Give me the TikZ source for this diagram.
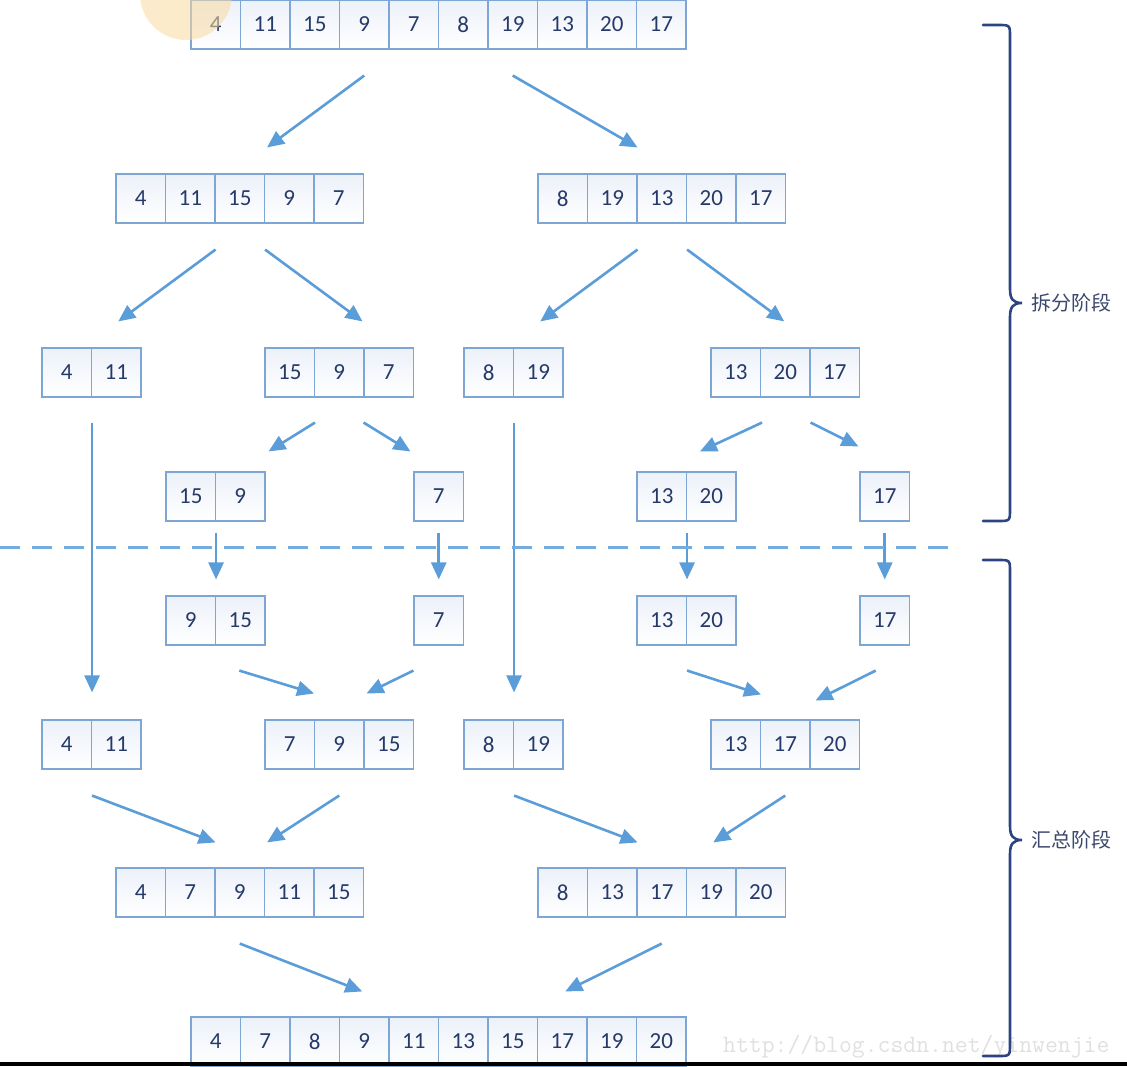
\documentclass[tikz,border=0pt]{standalone}
\usepackage{fontspec}
\setmainfont{Carlito}
\newfontfamily\cjk{Noto Sans CJK SC}
\usepackage{tikz}
\usetikzlibrary{arrows.meta}
\usetikzlibrary{calc}

\definecolor{cellline}{RGB}{125,166,212}
\definecolor{cellbg}{RGB}{236,241,249}
\definecolor{numtext}{RGB}{38,58,105}
\definecolor{arrowblue}{RGB}{91,157,216}
\definecolor{bracenavy}{RGB}{44,68,130}
\definecolor{labeltext}{RGB}{60,72,108}
\definecolor{blob}{RGB}{250,218,160}

% one row of cells: name, left x, top y, values
\newcommand{\cellrow}[4]{%
 \foreach \v [count=\i] in {#4} {
  \node[cell] (#1-\i) at ({#2+(\i-0.5)*49.5},{#3+24.5}) {\v};
 }
}

\begin{document}
\begin{tikzpicture}[x=1pt,y=-1pt,
 cell/.style={draw=cellline, line width=1.1pt, top color=cellbg, bottom color=white,
  minimum width=49.5pt, minimum height=49pt, inner sep=0pt, text=numtext,
  font=\fontsize{23}{23}\selectfont},
 flow/.style={draw=arrowblue, line width=2.6pt, -{Triangle[length=17pt,width=15pt]}},
 divider/.style={draw=arrowblue!85, line width=3pt, dash pattern=on 20pt off 12pt},
 brace/.style={draw=bracenavy, line width=2.6pt, line cap=round},
 phase/.style={text=labeltext, font=\cjk\fontsize{20}{20}\selectfont, anchor=west}]
\useasboundingbox (0,0) rectangle (1127,1066);

% split
\cellrow{t}{191}{0}{4,11,15,9,7,8,19,13,20,17}
\cellrow{a}{116}{174}{4,11,15,9,7}
\cellrow{b}{538}{174}{8,19,13,20,17}
\cellrow{c}{42}{348}{4,11}
\cellrow{d}{265}{348}{15,9,7}
\cellrow{e}{464}{348}{8,19}
\cellrow{f}{711}{348}{13,20,17}
\cellrow{g}{166}{472}{15,9}
\cellrow{h}{414}{472}{7}
\cellrow{i}{637}{472}{13,20}
\cellrow{j}{860}{472}{17}
% merge
\cellrow{n}{166}{596}{9,15}
\cellrow{o}{414}{596}{7}
\cellrow{p}{637}{596}{13,20}
\cellrow{q}{860}{596}{17}
\cellrow{k}{42}{720}{4,11}
\cellrow{r}{265}{720}{7,9,15}
\cellrow{m}{464}{720}{8,19}
\cellrow{s}{711}{720}{13,17,20}
\cellrow{u}{116}{868}{4,7,9,11,15}
\cellrow{v}{538}{868}{8,13,17,19,20}
\cellrow{w}{191}{1017}{4,7,8,9,11,13,15,17,19,20}

\fill[blob, opacity=.55] (186,-6) circle (46pt);

\draw[flow] ($(t-4.south)+(0,26)$) -- ($(a-3.north east)+(2,-26)$);
\draw[flow] ($(t-7.south)+(0,26)$) -- ($(b-2.north east)+(0,-26)$);
\draw[flow] ($(a-2.south east)+(0,26)$) -- ($(c-2.north)+(2,-26)$);
\draw[flow] ($(a-3.south east)+(0,26)$) -- ($(d-2.north east)+(-2,-26)$);
\draw[flow] ($(b-2.south east)+(0,26)$) -- ($(e-2.north)+(2,-26)$);
\draw[flow] ($(b-3.south east)+(0,26)$) -- ($(f-2.north)+(-1,-26)$);
\draw[flow] ($(d-1.south east)+(0,25)$) -- ($(g-2.north east)+(3,-20)$);
\draw[flow] ($(d-2.south east)+(-1,25)$) -- ($(h-1.north west)+(-3,-20)$);
\draw[flow] ($(f-1.south east)+(1,25)$) -- ($(i-2.north west)+(14,-20)$);
\draw[flow] ($(f-2.south east)+(0,25)$) -- ($(j-1.north west)+(-1,-25)$);
\draw[flow] ($(c-1.south east)+(0,25)$) -- ($(k-1.north east)+(0,-27)$);
\draw[flow] ($(e-1.south east)+(0,25)$) -- ($(m-1.north east)+(0,-27)$);
\draw[flow] ($(g-1.south east)+(0,11)$) -- ($(n-1.north east)+(0,-16)$);
\draw[flow] ($(h-1.south)+(0,11)$) -- ($(o-1.north)+(0,-16)$);
\draw[flow] ($(i-1.south east)+(0,11)$) -- ($(p-1.north east)+(0,-16)$);
\draw[flow] ($(j-1.south)+(0,11)$) -- ($(q-1.north)+(0,-16)$);
\draw[flow] ($(n-2.south)+(-1,25)$) -- ($(r-1.north east)+(-1,-26)$);
\draw[flow] ($(o-1.south west)+(0,25)$) -- ($(r-2.north east)+(2,-26)$);
\draw[flow] ($(p-1.south east)+(0,25)$) -- ($(s-1.north east)+(0,-25)$);
\draw[flow] ($(q-1.south)+(-9,25)$) -- ($(s-2.north east)+(5,-19)$);
\draw[flow] ($(k-1.south east)+(0,26)$) -- ($(u-2.north east)+(0,-25)$);
\draw[flow] ($(r-2.south)+(0,26)$) -- ($(u-3.north east)+(2,-25)$);
\draw[flow] ($(m-1.south east)+(0,26)$) -- ($(v-2.north east)+(0,-25)$);
\draw[flow] ($(s-2.south)+(0,26)$) -- ($(v-4.north)+(2,-25)$);
\draw[flow] ($(u-3.south)+(0,26)$) -- ($(w-4.north)+(-2,-25)$);
\draw[flow] ($(v-3.south)+(0,26)$) -- ($(w-8.north)+(3,-25)$);

\draw[divider] (0,547) -- (960,547);

\node[text=black!12, font=\ttfamily\fontsize{25}{25}\selectfont, anchor=base east]
 (mark) at (1113,1052) {http://blog.csdn.net/yinwenjie};

% braces
\draw[brace] (983,25) -- (998,25) .. controls (1010,25) .. (1010,37) -- (1010,289)
 .. controls (1010,299) and (1013,303) .. (1022,303) coordinate (splittip)
 .. controls (1013,303) and (1010,307) .. (1010,317) -- (1010,509)
 .. controls (1010,521) .. (998,521) -- (983,521);
\draw[brace] (983,560) -- (998,560) .. controls (1010,560) .. (1010,572) -- (1010,826)
 .. controls (1010,836) and (1013,840) .. (1022,840) coordinate (mergetip)
 .. controls (1013,840) and (1010,844) .. (1010,854) -- (1010,1044)
 .. controls (1010,1056) .. (998,1056) -- (983,1056);
\node[phase] (split) at ($(splittip)+(6,0)$) {拆分阶段};
\node[phase] (merge) at ($(mergetip)+(6,0)$) {汇总阶段};

\fill[black] (0,1062) rectangle (1127,1066);
\end{tikzpicture}
\end{document}
